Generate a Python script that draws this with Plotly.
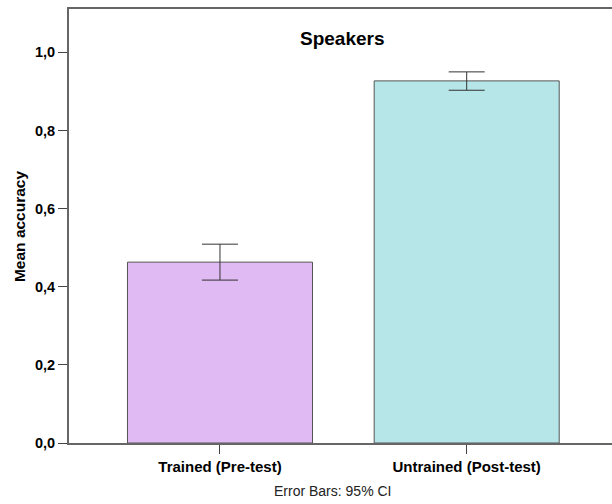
import plotly.graph_objects as go

# Mean accuracy per test condition with 95% confidence intervals
categories = ["Trained (Pre-test)", "Untrained (Post-test)"]
mean_accuracy = [0.463, 0.927]
ci_upper = [0.509, 0.950]
ci_lower = [0.417, 0.903]
bar_colors = ["#DFBAF3", "#B6E6E8"]
y_ticks = [0.0, 0.2, 0.4, 0.6, 0.8, 1.0]
y_tick_text = ["0,0", "0,2", "0,4", "0,6", "0,8", "1,0"]

err_plus = [u - m for u, m in zip(ci_upper, mean_accuracy)]
err_minus = [m - l for m, l in zip(mean_accuracy, ci_lower)]

FONT = "Liberation Sans, Arial, sans-serif"

fig = go.Figure()
fig.add_trace(go.Bar(
    x=[0, 1],
    y=mean_accuracy,
    width=0.75,
    marker=dict(color=bar_colors, line=dict(color="#555555", width=1)),
    error_y=dict(
        type="data",
        symmetric=False,
        array=err_plus,
        arrayminus=err_minus,
        color="#333333",
        thickness=1,
        width=18,
    ),
    hoverinfo="skip",
))

fig.update_layout(
    width=612,
    height=504,
    margin=dict(l=69, r=0, t=9, b=61),
    paper_bgcolor="white",
    plot_bgcolor="white",
    showlegend=False,
    font=dict(family=FONT, size=12, color="#000000"),
    xaxis=dict(
        range=[-0.612, 1.589],
        tickmode="array",
        tickvals=[0, 1],
        ticktext=["<b>%s</b>" % c for c in categories],
        ticks="outside",
        ticklen=9,
        tickcolor="#444444",
        tickwidth=1,
        showline=True,
        linecolor="#666666",
        linewidth=2,
        mirror=True,
        showgrid=False,
        zeroline=False,
        tickfont=dict(size=15, family=FONT),
    ),
    yaxis=dict(
        range=[0, 1.111],
        tickmode="array",
        tickvals=y_ticks,
        ticktext=["<b>%s</b>" % t for t in y_tick_text],
        ticks="outside",
        ticklen=9,
        tickcolor="#444444",
        tickwidth=1,
        showline=True,
        linecolor="#666666",
        linewidth=2,
        showgrid=False,
        zeroline=False,
        tickfont=dict(size=14.5, family=FONT),
    ),
    annotations=[
        dict(text="<b>Speakers</b>", xref="paper", yref="paper",
             x=0.503, y=0.933, xanchor="center", yanchor="middle",
             showarrow=False, font=dict(size=19, family=FONT)),
        dict(text="<b>Mean accuracy</b>", xref="paper", yref="paper",
             x=-0.092, y=0.50, xanchor="center", yanchor="middle",
             textangle=-90, showarrow=False, font=dict(size=15.5, family=FONT)),
        dict(text="Error Bars: 95% CI", xref="paper", yref="paper",
             x=0.485, y=-0.1106, xanchor="center", yanchor="middle",
             showarrow=False, font=dict(size=14, family=FONT, color="#222222")),
    ],
)

fig.write_html("out.html")
